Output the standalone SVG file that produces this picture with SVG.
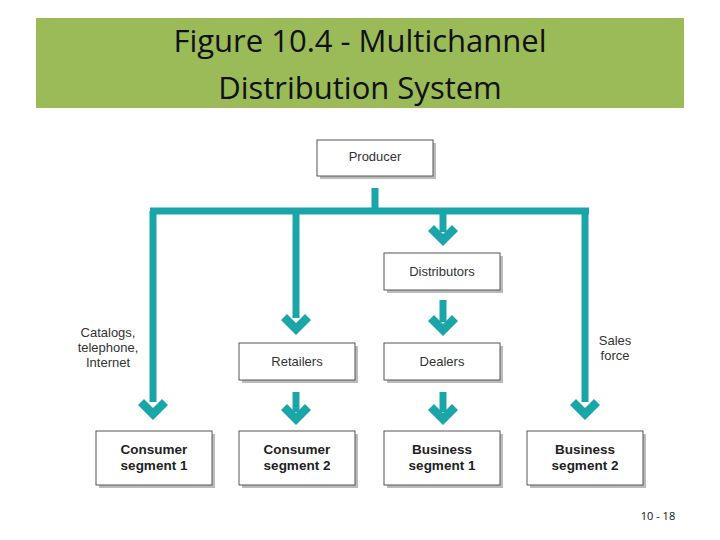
<svg xmlns="http://www.w3.org/2000/svg" width="720" height="540" viewBox="0 0 720 540">
<style>
.box{fill:#fff;stroke:#555;stroke-width:1}
.sh{fill:#bbb}
.t{font-family:"Liberation Sans",Arial,sans-serif;font-size:13px;fill:#333;text-anchor:middle}
.b{font-family:"Liberation Sans",Arial,sans-serif;font-size:13.5px;font-weight:bold;fill:#222;text-anchor:middle}
.ln{stroke:#1AA5A8;stroke-width:7;fill:none}
.ah{fill:#1AA5A8}
</style>
<defs>
<polygon id="ah" points="-15,-14 -9,-20 0,-11 9,-20 15,-14 0,1"/>
</defs>
<rect width="720" height="540" fill="#fff"/>
<rect x="36" y="18" width="648" height="90" fill="#9BBB59"/>
<text x="360" y="52" font-family="'Open Sans','Liberation Sans',sans-serif" font-size="31" text-anchor="middle" fill="#111">Figure 10.4 - Multichannel</text>
<text x="360" y="99" font-family="'Open Sans','Liberation Sans',sans-serif" font-size="31" text-anchor="middle" fill="#111">Distribution System</text>
<g id="connectors">
<path class="ln" d="M375,188V211M150,211H589M153,211V402M296,211V318M443,211V232M585,211V402M443,300V322M296,392V412M443,392V412"/>
<use href="#ah" x="153" y="419" class="ah"/>
<use href="#ah" x="296" y="334" class="ah"/>
<use href="#ah" x="443" y="245" class="ah"/>
<use href="#ah" x="443" y="335" class="ah"/>
<use href="#ah" x="585" y="419" class="ah"/>
<use href="#ah" x="296" y="424" class="ah"/>
<use href="#ah" x="443" y="424" class="ah"/>
</g>
<g id="producer"><rect class="sh" x="320" y="143" width="116" height="36"/><rect class="box" x="317" y="140" width="116" height="36"/><text class="t" x="375" y="161">Producer</text></g>
<g id="distributors"><rect class="sh" x="387" y="256" width="116" height="37"/><rect class="box" x="384" y="253" width="116" height="37"/><text class="t" x="442" y="276">Distributors</text></g>
<g id="retailers"><rect class="sh" x="242" y="346" width="116" height="37"/><rect class="box" x="239" y="343" width="116" height="37"/><text class="t" x="297" y="366">Retailers</text></g>
<g id="dealers"><rect class="sh" x="387" y="346" width="116" height="37"/><rect class="box" x="384" y="343" width="116" height="37"/><text class="t" x="442" y="366">Dealers</text></g>
<g id="cs1"><rect class="sh" x="99" y="434" width="116" height="54"/><rect class="box" x="96" y="431" width="116" height="54"/><text class="b" x="154" y="454">Consumer</text><text class="b" x="154" y="470">segment 1</text></g>
<g id="cs2"><rect class="sh" x="242" y="434" width="116" height="54"/><rect class="box" x="239" y="431" width="116" height="54"/><text class="b" x="297" y="454">Consumer</text><text class="b" x="297" y="470">segment 2</text></g>
<g id="bs1"><rect class="sh" x="387" y="434" width="116" height="54"/><rect class="box" x="384" y="431" width="116" height="54"/><text class="b" x="442" y="454">Business</text><text class="b" x="442" y="470">segment 1</text></g>
<g id="bs2"><rect class="sh" x="530" y="434" width="116" height="54"/><rect class="box" x="527" y="431" width="116" height="54"/><text class="b" x="585" y="454">Business</text><text class="b" x="585" y="470">segment 2</text></g>
<g id="labels">
<text class="t" x="108" y="337">Catalogs,</text>
<text class="t" x="108" y="352">telephone,</text>
<text class="t" x="108" y="367">Internet</text>
<text class="t" x="615" y="345">Sales</text>
<text class="t" x="615" y="360">force</text>
</g>
<text x="658" y="520" font-family="'Open Sans','Liberation Sans',sans-serif" font-size="11" text-anchor="middle" fill="#111">10 - 18</text>
</svg>
